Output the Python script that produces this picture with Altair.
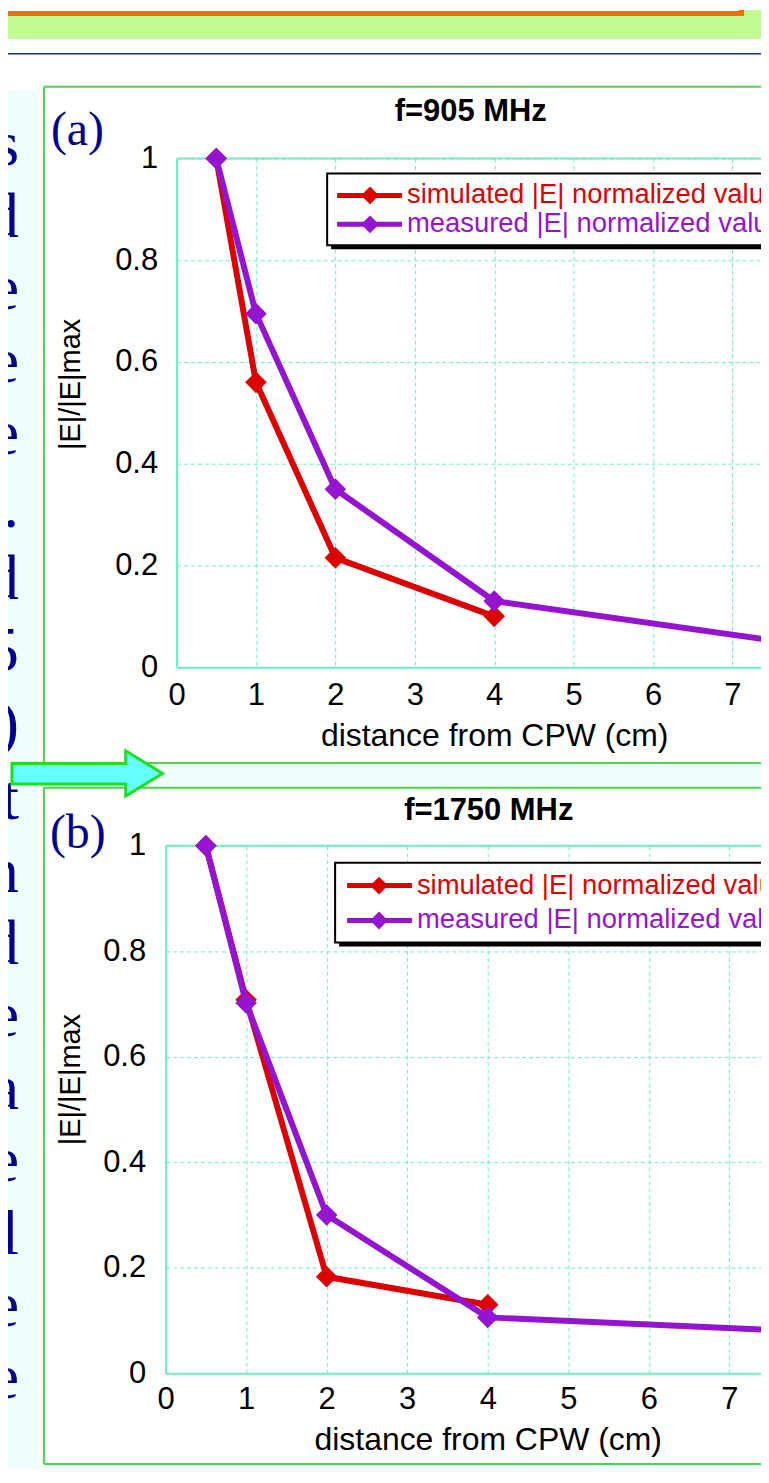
import altair as alt
import pandas as pd

# ---------------- data ----------------
X_TICKS = [0, 1, 2, 3, 4, 5, 6, 7, 8]
Y_TICKS = [0, 0.2, 0.4, 0.6, 0.8, 1]
SERIES = ["simulated |E| normalized values", "measured |E| normalized values"]

A_SIM_X = [0.5, 1, 2, 4]
A_SIM_Y = [1.0, 0.56, 0.215, 0.10]
A_MEAS_X = [0.5, 1, 2, 4, 8]
A_MEAS_Y = [1.0, 0.695, 0.35, 0.13, 0.042]

B_SIM_X = [0.5, 1, 2, 4]
B_SIM_Y = [1.0, 0.708, 0.183, 0.13]
B_MEAS_X = [0.5, 1, 2, 4, 8]
B_MEAS_Y = [1.0, 0.702, 0.30, 0.106, 0.079]

PANEL_TITLES = ["f=905 MHz", "f=1750 MHz"]
PANEL_TAGS = ["(a)", "(b)"]
X_TITLE = "distance from CPW (cm)"
Y_TITLE = "|E|/|E|max"
SIDE_TEXT_A = ["s", "d", "e", "e", "e", ".", "d", "5", ")"]
SIDE_TEXT_B = ["t", "n", "d", "e", "a", "e", "l", "e", "e"]

# ---------------- styles ----------------
SERIES_COLORS = ["#DC0000", "#9414D2"]
NAVY = "#00008C"
AQUA = "#6CF0C8"
BOX_GREEN = "#4CD64C"
LIGHT = "#F2FEFE"
BAND = "#C0FB92"
ORANGE = "#FF6A00"
BLUE = "#1A1AFF"
ARROW_FILL = "#66FFFF"
ARROW_LINE = "#1EE01E"
SANS = "Liberation Sans"
SERIF = "Liberation Serif"
ARROW_PATH = "M-1,-0.13L0.51,-0.13L0.51,-0.3L1,0L0.51,0.3L0.51,0.14L-1,0.14Z"

ONE = pd.DataFrame({"k": [0]})
LEFT, RIGHT = -40, 840      # page-space extent of each panel's layout frame
VISIBLE_RIGHT = 761         # last page column the chart may use without overflowing


def rect(o, x1, y1, x2, y2, **kw):
    return alt.Chart(ONE).mark_rect(**kw).encode(
        x=alt.value(x1 - o[0]), x2=alt.value(x2 - o[0]),
        y=alt.value(y1 - o[1]), y2=alt.value(y2 - o[1]))


def rule(o, x1, y1, x2, y2, **kw):
    return alt.Chart(ONE).mark_rule(**kw).encode(
        x=alt.value(x1 - o[0]), x2=alt.value(x2 - o[0]),
        y=alt.value(y1 - o[1]), y2=alt.value(y2 - o[1]))


def text(o, x, y, s, **kw):
    return alt.Chart(ONE).mark_text(text=s, **kw).encode(
        x=alt.value(x - o[0]), y=alt.value(y - o[1]))


def point(o, x, y, **kw):
    return alt.Chart(ONE).mark_point(**kw).encode(
        x=alt.value(x - o[0]), y=alt.value(y - o[1]))


def encodings(xrange, yoffset, xlabpad, xtitley, ylabpad, ytitlex, ytitley):
    xenc = alt.X("x:Q", scale=alt.Scale(domain=[0, 8], range=xrange, nice=False, zero=False),
                 axis=alt.Axis(values=X_TICKS, title=X_TITLE, grid=True, format="~g",
                               gridColor=AQUA, gridDash=[4, 3], gridWidth=1,
                               domainColor=AQUA, domainWidth=2, ticks=False,
                               labelFont=SANS, labelFontSize=31, labelColor="black",
                               labelPadding=xlabpad, labelFlush=False,
                               titleFont=SANS, titleFontSize=32, titleFontWeight="normal",
                               titleColor="black", titleY=xtitley, titleBaseline="top"))
    yenc = alt.Y("y:Q", scale=alt.Scale(domain=[0, 1], nice=False, zero=False),
                 axis=alt.Axis(values=Y_TICKS, title=Y_TITLE, grid=True, format="~g",
                               offset=yoffset,
                               gridColor=AQUA, gridDash=[4, 3], gridWidth=1,
                               domainColor=AQUA, domainWidth=2, ticks=False,
                               labelFont=SANS, labelFontSize=31, labelColor="black",
                               labelPadding=ylabpad, labelFlush=False,
                               titleFont=SANS, titleFontSize=29, titleFontWeight="normal",
                               titleColor="black", titleX=ytitlex, titleY=ytitley,
                               titleAngle=270, titleBaseline="bottom", titleAlign="center"))
    return xenc, yenc


def data_layers(xenc, yenc, sx, sy, mx, my):
    out = []
    for xs, ys, col in ((sx, sy, SERIES_COLORS[0]), (mx, my, SERIES_COLORS[1])):
        df = pd.DataFrame({"x": xs, "y": ys})
        out.append(alt.Chart(df).mark_line(color=col, strokeWidth=6).encode(x=xenc, y=yenc))
        out.append(alt.Chart(df).mark_point(shape="diamond", filled=True, size=470,
                                            color=col, opacity=1).encode(x=xenc, y=yenc))
    return out


def legend_layers(o, bx, by1, by2, rows, lx1, lx2, mx, tx):
    out = [rect(o, bx + 4, by1 + 4, 834, by2 + 4, color="black"),
           rect(o, bx, by1, 830, by2, fill="white", stroke="black", strokeWidth=2)]
    for ry, name, col in zip(rows, SERIES, SERIES_COLORS):
        out.append(rule(o, lx1, ry, lx2, ry, color=col, strokeWidth=5))
        out.append(point(o, mx, ry, shape="diamond", filled=True, size=320, color=col, opacity=1))
        out.append(text(o, tx, ry, name, font=SANS, fontSize=27.5, color=col,
                        align="left", baseline="middle"))
    return out


def side_letters(o, letters, start):
    return [text(o, 18, 163 + (start + i) * 72.6, ch, font=SERIF, fontSize=64, color=NAVY,
                 align="right", baseline="alphabetic") for i, ch in enumerate(letters)]


# ---------------- panel (a) ----------------
A_LEFT, A_TOP, A_W, A_H = 176, 157, 637, 510
oA = (A_LEFT, A_TOP)
xA, yA = encodings([0, A_W], 0, 13, 54, 19, 85 - A_LEFT, 383 - A_TOP)
layersA = [
    rect(oA, LEFT, 8, RIGHT, 770, opacity=0),
    rect(oA, LEFT, 8, RIGHT, 37, color=BAND),
    rect(oA, LEFT, 8, 740, 9, color="white"),
    rect(oA, LEFT, 9, 745, 14, color=ORANGE),
    rect(oA, 740, 8, 745, 14, color=ORANGE),
    rule(oA, LEFT, 52, RIGHT, 52, color=BLUE, strokeWidth=1.5),
    rect(oA, LEFT, 88, 37, 770, color=LIGHT),
    rect(oA, LEFT, 764, RIGHT, 770, color=LIGHT),
    rule(oA, 43, 85, 43, 763, color=BOX_GREEN, strokeWidth=2),
    rule(oA, 43, 85, 830, 85, color=BOX_GREEN, strokeWidth=2),
    rule(oA, 43, 763, 830, 763, color=BOX_GREEN, strokeWidth=2),
] + side_letters(oA, SIDE_TEXT_A, 0) + [
    text(oA, 50, 143, PANEL_TAGS[0], font=SERIF, fontSize=48, color=NAVY,
         align="left", baseline="alphabetic"),
    text(oA, 471, 119, PANEL_TITLES[0], font=SANS, fontSize=31, fontWeight="bold",
         color="black", align="center", baseline="alphabetic"),
    rule(oA, A_LEFT, A_TOP, A_LEFT + A_W, A_TOP, color=AQUA, strokeWidth=2),
] + data_layers(xA, yA, A_SIM_X, A_SIM_Y, A_MEAS_X, A_MEAS_Y) + legend_layers(
    oA, 327, 172, 244, [194, 223], 337, 402, 370, 407)

panelA = alt.layer(*layersA).properties(width=A_W, height=A_H)

# ---------------- panel (b) ----------------
# a single-column layout puts both views' origins at the same x; panel (b)'s
# plot starts 11 px further left, so its x range and y axis are shifted.
B_LEFT, B_TOP, B_W, B_H = 165, 843, 646, 529
oB = (A_LEFT, B_TOP)
shift = A_LEFT - B_LEFT
xB, yB = encodings([-shift, B_W - shift], shift, 11, 51, 20, 85 - B_LEFT, 1077 - B_TOP)
layersB = [
    rect(oB, LEFT, 744, RIGHT, 1468, opacity=0),
    rect(oB, LEFT, 765, 37, 1468, color=LIGHT),
    rect(oB, LEFT, 765, RIGHT, 784, color=LIGHT),
    rect(oB, LEFT, 1464, RIGHT, 1468, color=LIGHT),
    rule(oB, 43, 785, 43, 1463, color=BOX_GREEN, strokeWidth=2),
    rule(oB, 43, 785, 830, 785, color=BOX_GREEN, strokeWidth=2),
    rule(oB, 43, 1463, 830, 1463, color=BOX_GREEN, strokeWidth=2),
] + side_letters(oB, SIDE_TEXT_B, 9) + [
    point(oB, 86.5, 770.5, shape=ARROW_PATH, size=151 ** 2, filled=True,
          fill=ARROW_FILL, stroke=ARROW_LINE, strokeWidth=3, opacity=1),
    text(oB, 49, 845, PANEL_TAGS[1], font=SERIF, fontSize=48, color=NAVY,
         align="left", baseline="alphabetic"),
    text(oB, 489, 817, PANEL_TITLES[1], font=SANS, fontSize=31, fontWeight="bold",
         color="black", align="center", baseline="alphabetic"),
    rule(oB, B_LEFT, B_TOP, B_LEFT + B_W, B_TOP, color=AQUA, strokeWidth=2),
] + data_layers(xB, yB, B_SIM_X, B_SIM_Y, B_MEAS_X, B_MEAS_Y) + legend_layers(
    oB, 335, 860, 940, [883, 918], 347, 412, 379, 417)

panelB = alt.layer(*layersB).properties(width=B_W - shift, height=B_H)

chart = alt.ConcatChart(
    concat=[panelA, panelB], columns=1, spacing=(744 - 770), align="none", bounds="full",
    padding={"left": -(8 - LEFT), "top": 0, "right": -(RIGHT - VISIBLE_RIGHT), "bottom": 0},
    background="white",
).configure_view(strokeWidth=0)

chart.save("out.html", embed_options={"renderer": "svg", "actions": False})
